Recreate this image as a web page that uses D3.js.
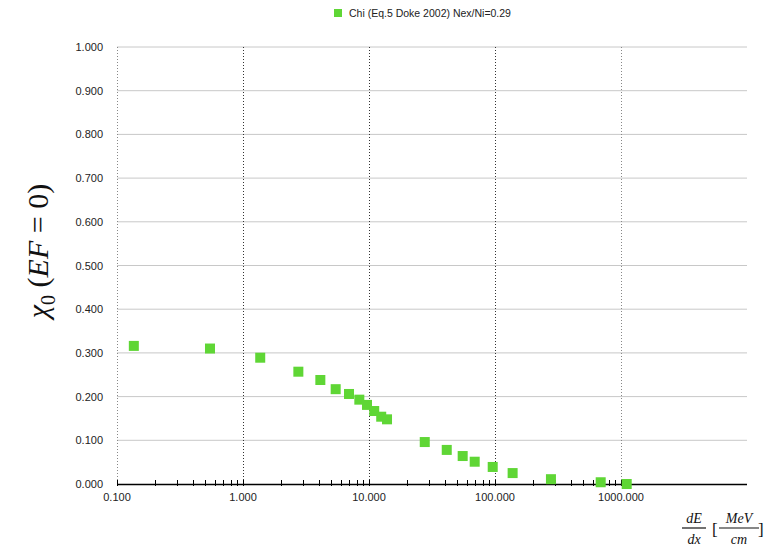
<html>
<script src="https://d3js.org/d3.v7.min.js"></script>
<style>
body{margin:0;background:#fff;}
svg{font-family:"Liberation Sans",Helvetica,Arial,sans-serif;}
</style>
<div id="chart"></div>
<script>
const seriesName = 'Chi (Eq.5 Doke 2002) Nex/Ni=0.29';
const dedx = [0.136, 0.547, 1.37, 2.75, 4.11, 5.44, 6.94, 8.38, 9.64, 11.0, 12.5, 13.9, 27.7, 41.4, 55.4, 69, 95.9, 138, 278, 690, 1110];
const chi  = [0.316, 0.310, 0.289, 0.257, 0.238, 0.217, 0.206, 0.193, 0.181, 0.167, 0.154, 0.148, 0.096, 0.078, 0.064, 0.051, 0.039, 0.025, 0.011, 0.004, 0.000];
const yTicks = [0, 0.1, 0.2, 0.3, 0.4, 0.5, 0.6, 0.7, 0.8, 0.9, 1.0];
const xMajor = [0.1, 1, 10, 100, 1000];

const width = 765, height = 549;
const margin = {top:47, left:117, bottom:65, right:18};
const plotW = width - margin.left - margin.right;
const plotH = height - margin.top - margin.bottom;
const green = '#5fd635';

const x = d3.scaleLog().domain([0.1, 10000]).range([0, plotW]);
const y = d3.scaleLinear().domain([0, 1]).range([plotH, 0]);

const svg = d3.select('#chart').append('svg')
  .attr('width', width).attr('height', height);

const g = svg.append('g')
  .attr('transform', `translate(${margin.left},${margin.top})`);

// horizontal grid
g.selectAll('.hgrid').data(yTicks.filter(d=>d>0))
  .enter().append('line')
    .attr('x1', 0).attr('x2', plotW)
    .attr('y1', d=>y(d)).attr('y2', d=>y(d))
    .attr('stroke', '#c8c8c8').attr('stroke-width', 1);

// vertical dotted grid
g.selectAll('.vgrid').data(xMajor)
  .enter().append('line')
    .attr('x1', d=>Math.round(x(d))+0.5).attr('x2', d=>Math.round(x(d))+0.5)
    .attr('y1', 0).attr('y2', plotH)
    .attr('stroke', d=>d===0.1 || d===1000 ? '#888' : '#333')
    .attr('stroke-dasharray', '1,2');

// y labels
g.selectAll('.ylab').data(yTicks)
  .enter().append('text')
    .attr('x', -14).attr('y', d=>y(d)+4)
    .attr('text-anchor', 'end')
    .attr('font-size', 11).attr('fill', '#222')
    .text(d=>d3.format('.3f')(d));

// x axis line + ticks
g.append('line')
  .attr('x1', 0).attr('x2', plotW)
  .attr('y1', plotH+0.5).attr('y2', plotH+0.5)
  .attr('stroke', '#000').attr('stroke-width', 1.3);

const minor = [];
[0.1, 1, 10, 100].forEach(dec => {
  for (let k=1; k<=9; k++) minor.push(dec*k);
});
minor.push(1000);
g.selectAll('.xtick').data(minor)
  .enter().append('line')
    .attr('x1', d=>Math.round(x(d))+0.5).attr('x2', d=>Math.round(x(d))+0.5)
    .attr('y1', plotH-4).attr('y2', plotH+2)
    .attr('stroke', '#000');

g.selectAll('.xlab').data(xMajor)
  .enter().append('text')
    .attr('x', d=>x(d)).attr('y', plotH+17)
    .attr('text-anchor', 'middle')
    .attr('font-size', 11).attr('fill', '#222')
    .text(d=>d3.format('.3f')(d));

// points
const pts = dedx.map((v,i)=>({x:v, y:chi[i]}));
g.selectAll('.pt').data(pts)
  .enter().append('rect')
    .attr('x', d=>x(d.x)-5).attr('y', d=>y(d.y)-5)
    .attr('width', 10).attr('height', 10)
    .attr('fill', green);

// legend
svg.append('rect')
  .attr('x', 334).attr('y', 9).attr('width', 8).attr('height', 8)
  .attr('fill', green);
svg.append('text')
  .attr('x', 349).attr('y', 17)
  .attr('font-size', 10.5).attr('fill', '#222')
  .text(seriesName);

// y axis title
const yt = svg.append('text')
  .attr('transform', 'translate(48,251) rotate(-90)')
  .attr('text-anchor', 'middle')
  .attr('font-family', '"Liberation Serif","Times New Roman",serif')
  .attr('font-size', 30).attr('fill', '#111');
yt.append('tspan').attr('font-style', 'italic').text('χ');
yt.append('tspan').attr('font-size', 20).attr('dy', 7).text('0');
yt.append('tspan').attr('dy', -7).text(' (');
yt.append('tspan').attr('font-style', 'italic').text('EF');
yt.append('tspan').text(' = 0)');

// x axis title (fraction)
const xt = svg.append('g')
  .attr('font-family', '"Liberation Serif","Times New Roman",serif')
  .attr('font-style', 'italic').attr('font-size', 14).attr('fill', '#111');
xt.append('text').attr('x', 694).attr('y', 523).attr('text-anchor', 'middle').text('dE');
xt.append('line').attr('x1', 682).attr('x2', 706).attr('y1', 528).attr('y2', 528).attr('stroke', '#111').attr('stroke-width', 1.2);
xt.append('text').attr('x', 694).attr('y', 544).attr('text-anchor', 'middle').text('dx');
xt.append('text').attr('x', 712).attr('y', 535).attr('font-style', 'normal').attr('font-size', 17).text('[');
xt.append('text').attr('x', 739).attr('y', 523).attr('text-anchor', 'middle').text('MeV');
xt.append('line').attr('x1', 719).attr('x2', 759).attr('y1', 528).attr('y2', 528).attr('stroke', '#111').attr('stroke-width', 1.2);
xt.append('text').attr('x', 739).attr('y', 544).attr('text-anchor', 'middle').text('cm');
xt.append('text').attr('x', 758).attr('y', 535).attr('font-style', 'normal').attr('font-size', 17).text(']');
</script>
</html>
